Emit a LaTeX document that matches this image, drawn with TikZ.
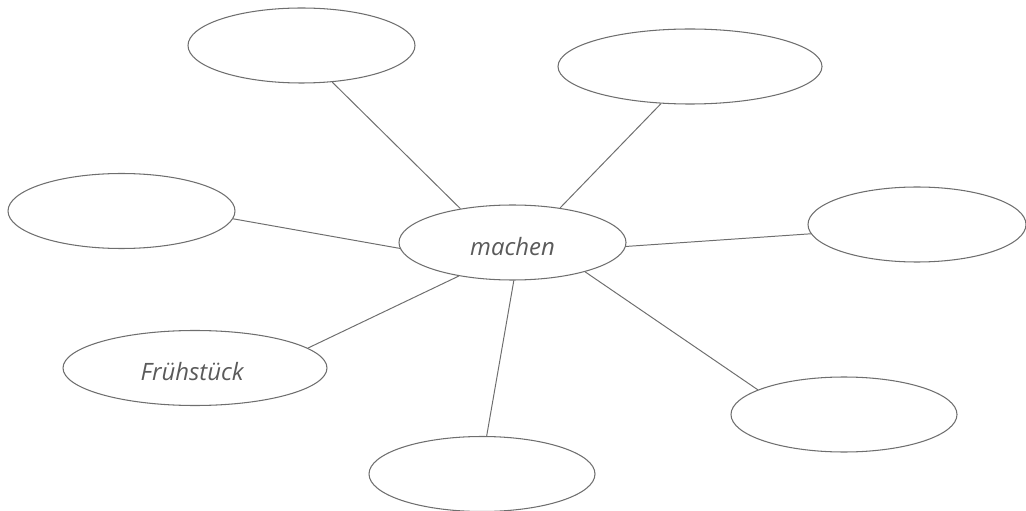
\documentclass[tikz,border=0pt]{standalone}
\usepackage{fontspec}
\setmainfont{Open Sans}
\usetikzlibrary{shapes.geometric}
\definecolor{inkgray}{HTML}{6E6E6E}
\definecolor{textgray}{HTML}{5A5A5A}
\tikzset{
  bubble/.style={ellipse, draw=inkgray, line width=0.75pt, inner sep=0pt,
    minimum width=#1*0.025cm, minimum height=75*0.025cm,
    font=\fontsize{17}{20}\selectfont\itshape, text=textgray,
    text height=18pt, text depth=0pt},
  bubble/.default=226,
  link/.style={draw=inkgray, line width=0.7pt}
}
\begin{document}
\begin{tikzpicture}[x=0.025cm, y=-0.025cm]
\useasboundingbox (0,0) rectangle (1026,511);
\node[bubble=227] (c)  at (512.5,242.5) {machen};
\node[bubble=227] (tl) at (301.5,45.5) {};
\node[bubble=264] (tr) at (690,66.5) {};
\node[bubble=227] (l)  at (121.5,211) {};
\node[bubble=218] (r)  at (917,224.5) {};
\node[bubble=264] (f)  at (195,368) {\hspace*{-4pt}Frühstück};
\node[bubble=226] (b)  at (482,474) {};
\node[bubble=226] (br) at (844,414.5) {};
\draw[link] (c.147.9) -- (tl.310.8);
\draw[link] (c.36.0) -- (tr.232.5);
\draw[link] (c.183.3) -- (l.356);
\draw[link] (c.358.2) -- (r.185.1);
\draw[link] (c.212.5) -- (f.10.1);
\draw[link] (c.272.3) -- (b.83.8);
\draw[link] (c.338.7) -- (br.164.9);
\end{tikzpicture}
\end{document}
